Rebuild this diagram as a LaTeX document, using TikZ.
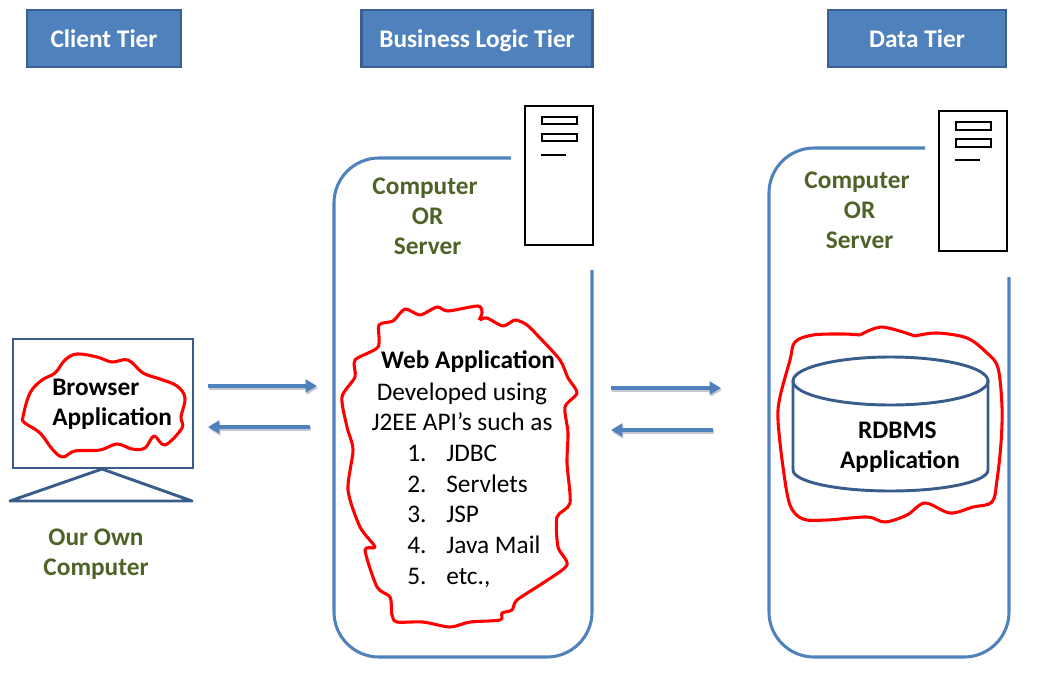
\documentclass[tikz,border=0pt]{standalone}
\usepackage{fontspec}
\setmainfont{Carlito}
\usetikzlibrary{arrows.meta,shapes.geometric}
\definecolor{hdr}{HTML}{4F81BD}
\definecolor{hdredge}{HTML}{3A6090}
\definecolor{olive}{HTML}{4F6228}
\definecolor{navy}{HTML}{385D8A}
\definecolor{shad}{HTML}{C4C8D0}
\tikzset{
  x=0.75pt,y=-0.75pt,
  header/.style={draw=hdredge,line width=2.2pt,fill=hdr,text=white,font=\fontsize{19}{22}\selectfont\bfseries,anchor=center,inner sep=0pt,text height=15pt,text depth=2.2pt},
  green label/.style={text=olive,font=\fontsize{19}{22.5}\selectfont\bfseries,align=center,inner sep=0pt},
  black label/.style={text=black,font=\fontsize{19}{22.5}\selectfont\bfseries,align=center,inner sep=0pt},
  plain label/.style={text=black,font=\fontsize{19}{22.5}\selectfont,inner sep=0pt,anchor=base west},
  panel/.style={draw=hdr,line width=2.3pt,rounded corners=33.75pt},
  navyline/.style={draw=navy,line width=2.2pt},
  serverline/.style={draw=black,line width=1.7pt},
  scrawl/.style={draw=red,line width=2.3pt,line join=round},
  flow/.style={draw=hdr,line width=3pt,-{Triangle[length=8.5pt,width=9.5pt]}},
  flowshadow/.style={draw=shad,line width=3pt,-{Triangle[length=8.5pt,width=9.5pt]}},
}
\begin{document}
\begin{tikzpicture}
\useasboundingbox (0,0) rectangle (1046,675);
% headers
\node[header,minimum width=115.5pt,minimum height=42.75pt] (h1) at (104,38.5) {Client Tier};
\node[header,minimum width=173.25pt,minimum height=42.75pt] (h2) at (477,38.5) {Business Logic Tier};
\node[header,minimum width=133.5pt,minimum height=42.75pt] (h3) at (917,38.5) {Data Tier};
% panels
\draw[panel] (511,158) -- (334,158) -- (334,657) -- (592,657) -- (592,270);
\draw[panel] (925,148) -- (769,148) -- (769,657) -- (1009,657) -- (1009,277);
% servers
\draw[serverline] (525,106) rectangle (593,245);
\draw[serverline,fill=white] (542,117) rectangle (577,124);
\draw[serverline,fill=white] (542,134) rectangle (577,141);
\draw[draw=black,line width=1pt] (541,155) -- (566,155);
\draw[serverline] (939,111) rectangle (1007,251);
\draw[serverline,fill=white] (956,122) rectangle (991,130);
\draw[serverline,fill=white] (956,139) rectangle (991,147);
\draw[draw=black,line width=1pt] (955,160) -- (980,160);
\node[green label] (cs1) at (425,216) {Computer\\\hspace*{4pt}OR\\\hspace*{4pt}Server};
\node[green label] (cs2) at (857,210) {Computer\\\hspace*{4pt}OR\\\hspace*{4pt}Server};
% monitor
\draw[navyline] (13,339) rectangle (193,468);
\draw[navyline,line join=round] (102,469) -- (192,501) -- (10,501) -- cycle;
\draw[scrawl] plot[smooth cycle,tension=0.6] coordinates {(77,354)(97,357)(112,362)(128,360)(143,373)(160,379)(177,386)(185,398)(181,417)(182,428)(165,445)(154,436)(145,448)(132,449)(117,444)(100,450)(75,451)(63,457)(53,450)(40,433)(25,423)(23,417)(30,393)(42,380)(55,373)(65,360)};
\node[black label,align=left,anchor=west] (browser) at (52,404) {Browser\\Application};
\node[green label] (own) at (96,554) {Our Own\\Computer};
% cylinder
\draw[navyline] (793,380) -- (793,470) arc[start angle=180,end angle=360,x radius=97.5,y radius=-21] -- (988,380);
\draw[navyline] (890.5,381) ellipse[x radius=97.5,y radius=24];
\node[black label] (rdbms) at (900,447) {\hspace*{-4pt}RDBMS\\Application};
\draw[scrawl] plot[smooth,tension=0.5] coordinates {(860,335)(882,327)(915,336)} ;
\draw[scrawl] plot[smooth,tension=0.55] coordinates {(915,336)(937,333)(967,338)(987,353)(998,368)(1002,407)(1001,443)(997,480)(992,502)(973,507)(950,513)(925,503)(907,515)(885,522)(867,517)(827,520)(803,519)(790,505)(783,467)(778,420)(780,397)(790,360)(795,342)(813,335)(843,334)(860,335)};
% web application
\draw[scrawl] plot[smooth,tension=0.45] coordinates {(480,320)(487,318)(503,326)(515,320)(527,325)(540,338)(560,360)(568,378)(577,393)(565,407)(568,433)(567,463)(570,503)(557,517)(558,547)(567,565)(543,583)(517,600)(512,610)(502,613)(500,620)(470,622)(450,627)(423,622)(397,622)(392,615)(390,597)(377,587)(365,550)(375,547)(360,527)(348,490)(353,450)(347,427)(342,397)(355,377)(355,360)(378,347)(379,325)(393,321)(405,309)(420,315)(437,307)(448,311)(478,306)(482,313)(479,320)};
\node[black label] (web) at (468,362) {Web Application};
\node[text=black,font=\fontsize{19}{22.5}\selectfont,align=center,inner sep=0pt] (dev) at (462,406.5) {Developed using\\J2EE API’s such as};
\node[plain label] (n1) at (407,461.5) {1.};
\node[plain label] (t1) at (446,461.5) {JDBC};
\node[plain label] (n2) at (407,492) {2.};
\node[plain label] (t2) at (446,492) {Servlets};
\node[plain label] (n3) at (407,522.5) {3.};
\node[plain label] (t3) at (446,522.5) {JSP};
\node[plain label] (n4) at (407,553.5) {4.};
\node[plain label] (t4) at (446,553.5) {Java Mail};
\node[plain label] (n5) at (407,584) {5.};
\node[plain label] (t5) at (446,584) {etc.,};
% arrows
\coordinate (a1s) at (208,386); \coordinate (a1e) at (317,386);
\coordinate (a2s) at (310,427); \coordinate (a2e) at (208,427);
\coordinate (a3s) at (611,388); \coordinate (a3e) at (721,388);
\coordinate (a4s) at (713,430); \coordinate (a4e) at (611,430);
\foreach \s/\e in {a1s/a1e,a2s/a2e,a3s/a3e,a4s/a4e}{
  \draw[flowshadow] ([shift={(1,2)}]\s) -- ([shift={(1,2)}]\e);
  \draw[flow] (\s) -- (\e);
}
\end{tikzpicture}
\end{document}
